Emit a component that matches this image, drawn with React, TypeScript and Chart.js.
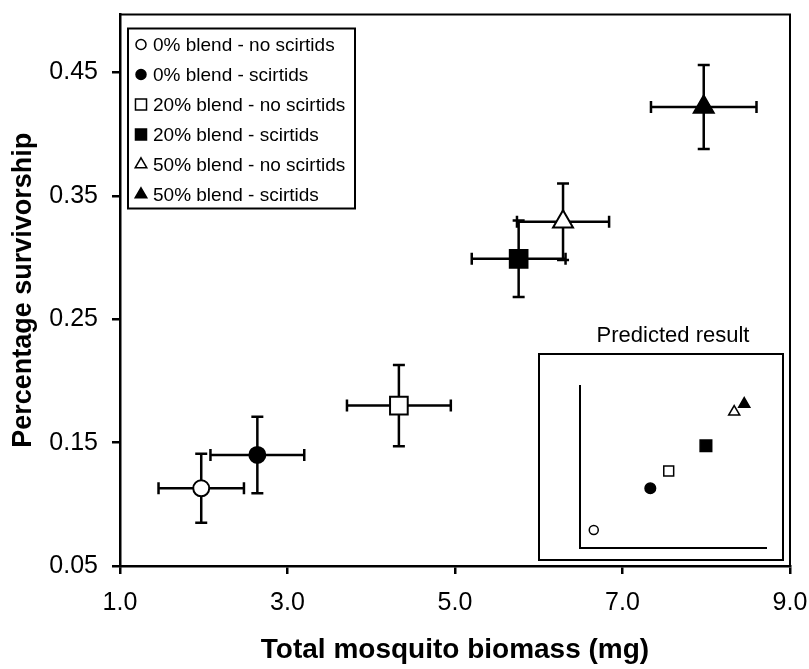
import React, { useEffect, useRef } from 'react';
import { Chart, registerables } from 'chart.js';
import { drawPoint } from 'chart.js/helpers';

Chart.register(...registerables);

// ---- data ----
const seriesLabels = [
  '0% blend - no scirtids',
  '0% blend - scirtids',
  '20% blend - no scirtids',
  '20% blend - scirtids',
  '50% blend - no scirtids',
  '50% blend - scirtids',
];
const biomass = [1.97, 2.64, 4.33, 5.76, 6.29, 7.97];
const biomassErr = [0.51, 0.56, 0.62, 0.56, 0.55, 0.63];
const survivorship = [0.113, 0.14, 0.18, 0.299, 0.329, 0.422];
const survivorshipErr = [0.028, 0.031, 0.033, 0.031, 0.031, 0.034];
const predictedX = [0.74, 3.78, 4.77, 6.77, 8.29, 8.83];
const predictedY = [1.11, 3.69, 4.75, 6.31, 8.4, 8.89];
const xTicks = [1, 3, 5, 7, 9];
const yTicks = [0.05, 0.15, 0.25, 0.35, 0.45];

// ---- styles ----
const FONT = "'Liberation Sans', Arial, sans-serif";
const markerStyle = ['circle', 'circle', 'rect', 'rect', 'triangle', 'triangle'];
const markerFill = ['#ffffff', '#000000', '#ffffff', '#000000', '#ffffff', '#000000'];
const mainRadius = [8, 8, 12.5, 12.5, 11.5, 11.5];
const legendRadius = [5, 5, 7.8, 7.8, 6.7, 6.7];
const insetRadius = [4.5, 5.3, 7, 8.2, 6.4, 6.4];

const errorBars = {
  id: 'errorBars',
  beforeDatasetsDraw(chart: any) {
    const { ctx } = chart;
    const x = chart.scales.x;
    const y = chart.scales.y;
    const cap = 6;
    ctx.save();
    ctx.strokeStyle = '#000';
    ctx.lineWidth = 2.5;
    biomass.forEach((bx, i) => {
      const by = survivorship[i];
      const px = x.getPixelForValue(bx);
      const py = y.getPixelForValue(by);
      const xl = x.getPixelForValue(bx - biomassErr[i]);
      const xr = x.getPixelForValue(bx + biomassErr[i]);
      const yt = y.getPixelForValue(by + survivorshipErr[i]);
      const yb = y.getPixelForValue(by - survivorshipErr[i]);
      ctx.beginPath();
      ctx.moveTo(xl, py); ctx.lineTo(xr, py);
      ctx.moveTo(px, yt); ctx.lineTo(px, yb);
      ctx.moveTo(xl, py - cap); ctx.lineTo(xl, py + cap);
      ctx.moveTo(xr, py - cap); ctx.lineTo(xr, py + cap);
      ctx.moveTo(px - cap, yt); ctx.lineTo(px + cap, yt);
      ctx.moveTo(px - cap, yb); ctx.lineTo(px + cap, yb);
      ctx.stroke();
    });
    ctx.restore();
  },
};

const frameAndLegend = {
  id: 'frameAndLegend',
  afterDraw(chart: any) {
    const { ctx, chartArea } = chart;
    ctx.save();
    ctx.strokeStyle = '#000';
    ctx.lineWidth = 2;
    ctx.strokeRect(chartArea.left, chartArea.top, chartArea.right - chartArea.left, chartArea.bottom - chartArea.top);

    const left = chartArea.left + 8;
    const top = chartArea.top + 14;
    const w = 227;
    const h = 180;
    ctx.fillStyle = '#fff';
    ctx.fillRect(left, top, w, h);
    ctx.strokeRect(left, top, w, h);
    ctx.font = `19px ${FONT}`;
    ctx.textBaseline = 'middle';
    ctx.textAlign = 'left';
    chart.data.datasets.forEach((ds: any, i: number) => {
      const yy = top + 16 + i * 30;
      ctx.fillStyle = markerFill[i];
      ctx.strokeStyle = '#000';
      ctx.lineWidth = 1.5;
      drawPoint(ctx, { pointStyle: markerStyle[i], radius: legendRadius[i], borderWidth: 1.5, rotation: 0 } as any, left + 13, yy);
      ctx.fillStyle = '#000';
      ctx.fillText(ds.label, left + 25, yy + 1);
    });
    ctx.restore();
  },
};

const insetBox = {
  id: 'insetBox',
  afterDraw(chart: any) {
    const { ctx } = chart;
    ctx.save();
    ctx.strokeStyle = '#000';
    ctx.lineWidth = 2;
    ctx.strokeRect(1, 34, 244, 206);
    ctx.restore();
  },
};

export default function App() {
  const mainRef = useRef<HTMLCanvasElement>(null);
  const insetRef = useRef<HTMLCanvasElement>(null);

  useEffect(() => {
    document.body.style.margin = '0';
    const tickFont = { family: FONT, size: 25 };
    const main = new Chart(mainRef.current as HTMLCanvasElement, {
      type: 'scatter',
      data: {
        datasets: seriesLabels.map((label, i) => ({
          label,
          data: [{ x: biomass[i], y: survivorship[i] }],
          pointStyle: markerStyle[i] as any,
          pointRadius: mainRadius[i],
          pointHoverRadius: mainRadius[i],
          backgroundColor: markerFill[i],
          borderColor: '#000',
          borderWidth: 2,
          pointBorderWidth: 2,
        })),
      },
      options: {
        animation: false,
        responsive: false,
        layout: { padding: { top: 2, right: 19, left: 0, bottom: 0 } },
        plugins: {
          legend: { display: false },
          tooltip: { enabled: false },
        },
        scales: {
          x: {
            type: 'linear',
            min: 1,
            max: 9,
            afterBuildTicks: (s: any) => { s.ticks = xTicks.map((v) => ({ value: v })); },
            afterFit: (s: any) => { s.height = 103; s.paddingLeft = 0; s.paddingRight = 0; },
            ticks: {
              callback: (v: any) => Number(v).toFixed(1),
              font: tickFont,
              color: '#000',
              padding: 14,
              maxRotation: 0,
              autoSkip: false,
            },
            grid: { display: true, drawOnChartArea: false, drawTicks: true, tickLength: 8, color: '#000', lineWidth: 2.5 },
            border: { display: true, color: '#000', width: 2.5 },
            title: {
              display: true,
              text: 'Total mosquito biomass (mg)',
              font: { family: FONT, size: 28, weight: 'bold' },
              color: '#000',
              padding: { top: 0, bottom: 2 },
            },
          },
          y: {
            type: 'linear',
            min: 0.05,
            max: 0.497,
            afterBuildTicks: (s: any) => { s.ticks = yTicks.map((v) => ({ value: v })); },
            afterFit: (s: any) => { s.width = 120; s.paddingTop = 0; s.paddingBottom = 0; },
            ticks: {
              callback: (v: any) => Number(v).toFixed(2),
              font: tickFont,
              color: '#000',
              padding: 14,
              autoSkip: false,
            },
            grid: { display: true, drawOnChartArea: false, drawTicks: true, tickLength: 8, color: '#000', lineWidth: 2.5 },
            border: { display: true, color: '#000', width: 2.5 },
            title: {
              display: true,
              text: 'Percentage survivorship',
              font: { family: FONT, size: 27, weight: 'bold' },
              color: '#000',
              padding: { top: 7, bottom: 0 },
            },
          },
        },
      },
      plugins: [errorBars, frameAndLegend],
    } as any);

    const inset = new Chart(insetRef.current as HTMLCanvasElement, {
      type: 'scatter',
      data: {
        datasets: seriesLabels.map((label, i) => ({
          label,
          data: [{ x: predictedX[i], y: predictedY[i] }],
          pointStyle: markerStyle[i] as any,
          pointRadius: insetRadius[i],
          pointHoverRadius: insetRadius[i],
          backgroundColor: markerFill[i],
          borderColor: '#000',
          pointBorderWidth: 1.5,
          borderWidth: 1.5,
        })),
      },
      options: {
        animation: false,
        responsive: false,
        layout: { padding: { left: 42, right: 20, top: 0, bottom: 14 } },
        plugins: {
          legend: { display: false },
          tooltip: { enabled: false },
          title: {
            display: true,
            text: 'Predicted result',
            font: { family: FONT, size: 22, weight: 'normal' },
            color: '#000',
            lineHeight: 1.2,
            padding: { top: 3, bottom: 36.6 },
          },
        },
        scales: {
          x: {
            type: 'linear', min: 0, max: 10,
            ticks: { display: false },
            grid: { display: false },
            border: { display: true, color: '#000', width: 2 },
            afterFit: (s: any) => { s.height = 0; },
          },
          y: {
            type: 'linear', min: 0, max: 10,
            ticks: { display: false },
            grid: { display: false },
            border: { display: true, color: '#000', width: 2 },
            afterFit: (s: any) => { s.width = 0; },
          },
        },
      },
      plugins: [insetBox],
    } as any);

    return () => {
      main.destroy();
      inset.destroy();
    };
  }, []);

  return (
    <div style={{ position: 'relative', width: 809, height: 669, background: '#fff' }}>
      <canvas ref={mainRef} width={809} height={669} style={{ position: 'absolute', left: 0, top: 0 }} />
      <canvas ref={insetRef} width={248} height={242} style={{ position: 'absolute', left: 538, top: 320 }} />
    </div>
  );
}
